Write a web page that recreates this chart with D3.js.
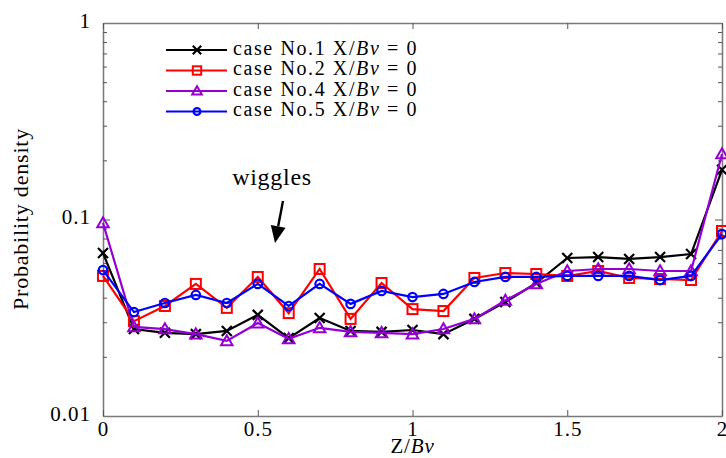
<!DOCTYPE html>
<html><head><meta charset="utf-8">
<script src="https://cdn.jsdelivr.net/npm/d3@7"></script>
<style>body{margin:0;background:#fff}svg{display:block}text{font-family:"Liberation Serif","Times New Roman",serif}</style>
</head><body><svg id="c" width="726" height="458"></svg>
<script>
const zValues = [0,0.1,0.2,0.3,0.4,0.5,0.6,0.7,0.8,0.9,1.0,1.1,1.2,1.3,1.4,1.5,1.6,1.7,1.8,1.9,2.0];
const case1 = [0.0675,0.0277,0.0265,0.0261,0.0271,0.0327,0.0249,0.0315,0.0271,0.0268,0.0274,0.0261,0.0312,0.0380,0.0475,0.0637,0.0644,0.0630,0.0644,0.0667,0.179];
const case2 = [0.0516,0.0304,0.0363,0.0470,0.0355,0.0510,0.0334,0.0560,0.0312,0.0475,0.0350,0.0342,0.0504,0.0534,0.0528,0.0516,0.0547,0.0504,0.0498,0.0492,0.0874];
const case4 = [0.096,0.0284,0.0277,0.0261,0.0241,0.0297,0.0247,0.0281,0.0268,0.0265,0.0261,0.0277,0.0312,0.0387,0.0470,0.0547,0.0560,0.0560,0.0547,0.0547,0.2155];
const case5 = [0.0553,0.0338,0.0376,0.0413,0.0376,0.0470,0.0363,0.0470,0.0372,0.0433,0.0403,0.0418,0.0481,0.0510,0.0510,0.0516,0.0516,0.0516,0.0492,0.0516,0.0843];
const seriesNames = ["case No.1","case No.2","case No.4","case No.5"];
const xTicks = [0,0.5,1,1.5,2];
const xTickLabels = ["0","0.5","1","1.5","2"];
const yTicks = [0.01,0.1,1];
const yTickLabels = ["0.01","0.1","1"];

const series = [
  {name:seriesNames[0], values:case1, color:"#000000", marker:"x"},
  {name:seriesNames[1], values:case2, color:"#ff0000", marker:"square"},
  {name:seriesNames[2], values:case4, color:"#9400d3", marker:"triangle"},
  {name:seriesNames[3], values:case5, color:"#0000ff", marker:"circle"}
];

const svg = d3.select("#c");
const L=103, R=722, T=23, B=416;
const x = d3.scaleLinear().domain([0,2]).range([L,R]);
const y = d3.scaleLog().domain([0.01,1]).range([B,T]);
const axisColor="#7a7a7a";

const minor=[];
[0.01,0.1].forEach(d=>{for(let k=2;k<=9;k++) minor.push(d*k);});

const g = svg.append("g");
const aLeft = g.append("g").attr("transform",`translate(${L},0)`)
  .call(d3.axisLeft(y).tickValues(yTicks).tickFormat((d,i)=>yTickLabels[i]).tickSizeInner(-7).tickSizeOuter(0).tickPadding(12));
const aLeftMinor = g.append("g").attr("transform",`translate(${L},0)`)
  .call(d3.axisLeft(y).tickValues(minor).tickFormat("").tickSizeInner(-4).tickSizeOuter(0));
const aRight = g.append("g").attr("transform",`translate(${R},0)`)
  .call(d3.axisRight(y).tickValues(yTicks).tickFormat("").tickSizeInner(-7).tickSizeOuter(0));
const aRightMinor = g.append("g").attr("transform",`translate(${R},0)`)
  .call(d3.axisRight(y).tickValues(minor).tickFormat("").tickSizeInner(-4).tickSizeOuter(0));
const aBottom = g.append("g").attr("transform",`translate(0,${B})`)
  .call(d3.axisBottom(x).tickValues(xTicks).tickFormat((d,i)=>xTickLabels[i]).tickSizeInner(-6).tickSizeOuter(0).tickPadding(6));
const aTop = g.append("g").attr("transform",`translate(0,${T})`)
  .call(d3.axisTop(x).tickValues(xTicks).tickFormat("").tickSizeInner(-6).tickSizeOuter(0));
[aLeft,aLeftMinor,aRight,aRightMinor,aBottom,aTop].forEach(a=>{
  a.selectAll("path.domain").attr("stroke",axisColor).attr("stroke-width",1.3);
  a.selectAll(".tick line").attr("stroke","#555").attr("stroke-width",1);
  a.selectAll("text").attr("fill","#000").style("font-family",'"Liberation Serif",serif').style("font-size","21px").style("letter-spacing","1px");
});
aBottom.selectAll("text").attr("y",20).attr("dy","0");
aLeft.selectAll("text").attr("dy","0.2em");

svg.append("text").attr("transform",`translate(28,219) rotate(-90)`)
  .attr("text-anchor","middle").style("font-size","22px").style("letter-spacing","0.8px").text("Probability density");
const xl = svg.append("text").attr("x",x(1)).attr("y",453).attr("text-anchor","middle").style("font-size","21px").style("letter-spacing","0.8px");
xl.append("tspan").text("Z/");
xl.append("tspan").attr("font-style","italic").text("Bv");

function drawMarker(sel, type, color, cx, cy, s){
  if(type==="x"){
    sel.append("path").attr("d",`M${cx-s},${cy-s}L${cx+s},${cy+s}M${cx-s},${cy+s}L${cx+s},${cy-s}`)
      .attr("stroke",color).attr("stroke-width",2.2).attr("fill","none");
  } else if(type==="square"){
    sel.append("rect").attr("x",cx-s).attr("y",cy-s).attr("width",2*s).attr("height",2*s)
      .attr("stroke",color).attr("stroke-width",2).attr("fill","none");
  } else if(type==="triangle"){
    const h=s*1.15;
    sel.append("path").attr("d",`M${cx},${cy-h}L${cx+s*1.15},${cy+h*0.75}L${cx-s*1.15},${cy+h*0.75}Z`)
      .attr("stroke",color).attr("stroke-width",2).attr("fill","none");
  } else {
    sel.append("circle").attr("cx",cx).attr("cy",cy).attr("r",s*0.85)
      .attr("stroke",color).attr("stroke-width",2.2).attr("fill","none");
  }
}

const line = d3.line().x((d,i)=>x(zValues[i])).y(d=>y(d));
series.forEach(s=>{
  const sg = svg.append("g");
  sg.append("path").datum(s.values).attr("d",line).attr("fill","none").attr("stroke",s.color).attr("stroke-width",2.2);
  s.values.forEach((v,i)=>drawMarker(sg,s.marker,s.color,x(zValues[i]),y(v),5));
});

const legY=[50,70.5,91,111.5];
series.forEach((s,i)=>{
  const lg = svg.append("g");
  lg.append("line").attr("x1",166).attr("x2",227).attr("y1",legY[i]).attr("y2",legY[i]).attr("stroke",s.color).attr("stroke-width",2.2);
  drawMarker(lg,s.marker,s.color,197,legY[i],s.marker==="circle"?4:4.2);
  const t = lg.append("text").attr("x",233).attr("y",legY[i]+4.5).style("font-size","20px").style("letter-spacing","1.6px");
  t.append("tspan").text(s.name+" X/");
  t.append("tspan").attr("font-style","italic").text("Bv");
  t.append("tspan").text(" = 0");
});

svg.append("text").attr("x",272).attr("y",185).attr("text-anchor","middle").style("font-size","24px").style("letter-spacing","0.7px").text("wiggles");
// arrow
const ax1=283, ay1=201, ax2=275, ay2=243;
const ang=Math.atan2(ay2-ay1, ax2-ax1), hl=17, hw=7.5;
const bx=ax2-hl*Math.cos(ang), by=ay2-hl*Math.sin(ang);
svg.append("line").attr("x1",ax1).attr("y1",ay1).attr("x2",bx).attr("y2",by).attr("stroke","#000").attr("stroke-width",2.4);
svg.append("path").attr("d",`M${ax2},${ay2}L${bx-hw*Math.sin(ang)},${by+hw*Math.cos(ang)}L${bx+hw*Math.sin(ang)},${by-hw*Math.cos(ang)}Z`).attr("fill","#000");
</script></body></html>
